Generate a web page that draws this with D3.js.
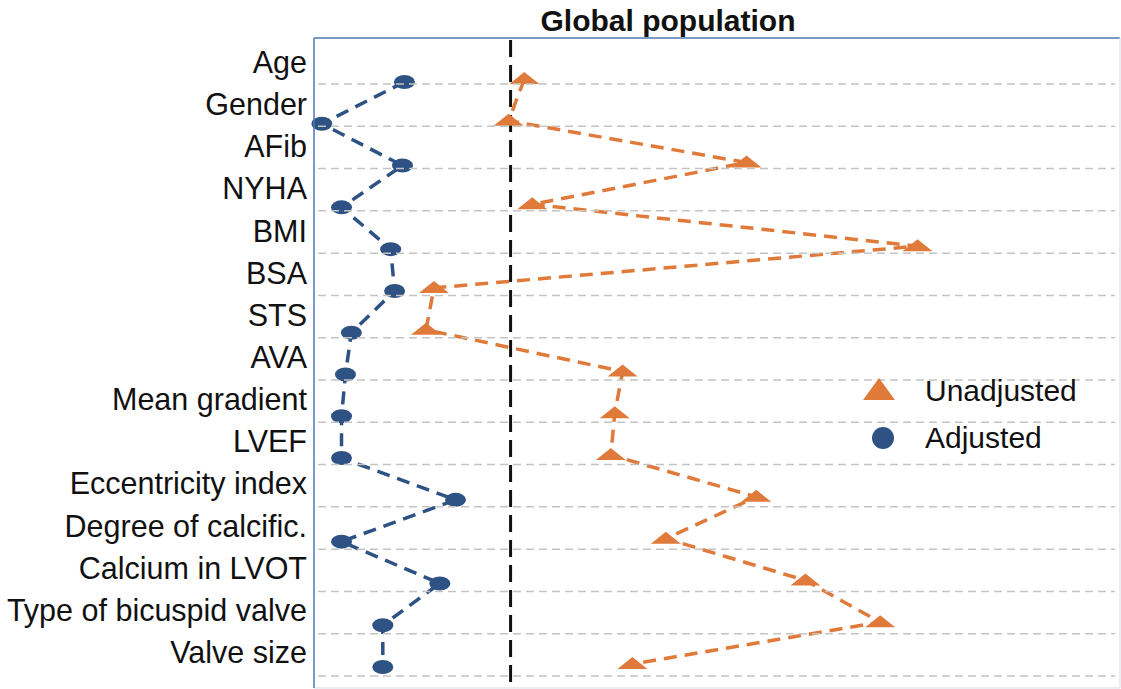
<!DOCTYPE html>
<html>
<head>
<meta charset="utf-8">
<script src="https://cdn.jsdelivr.net/npm/d3@7"></script>
<style>
  html, body { margin: 0; padding: 0; background: #ffffff; }
  svg { display: block; font-family: "Liberation Sans", Arial, Helvetica, sans-serif; }
</style>
</head>
<body>
<svg id="chart" width="1121" height="689"></svg>
<script>
// ---- data ----
const categories = ["Age", "Gender", "AFib", "NYHA", "BMI", "BSA", "STS", "AVA",
  "Mean gradient", "LVEF", "Eccentricity index", "Degree of calcific.",
  "Calcium in LVOT", "Type of bicuspid valve", "Valve size"];
const unadjusted = [0.107, 0.099, 0.220, 0.111, 0.307, 0.061, 0.057, 0.157,
  0.153, 0.151, 0.225, 0.179, 0.250, 0.288, 0.162];
const adjusted = [0.046, 0.004, 0.045, 0.014, 0.039, 0.041, 0.019, 0.016,
  0.014, 0.014, 0.072, 0.014, 0.064, 0.035, 0.035];
const threshold = 0.1;
const seriesNames = ["Unadjusted", "Adjusted"];
const title = "Global population";

// ---- layout ----
const W = 1121, H = 689;
const plot = { left: 314, top: 38, right: 1120, bottom: 688 };
const orange = "#df7a3a", blue = "#2d5283";

const svg = d3.select("#chart");

const x = d3.scaleLinear().domain([0, 0.41]).range([plot.left, plot.right]);
const y = d3.scalePoint().domain(categories).range([82, 667]);
const yGrid = d3.scalePoint().domain(categories).range([84, 676]);
const yLabel = d3.scalePoint().domain(categories).range([73, 663]);

// frame
svg.append("line").attr("x1", plot.left).attr("x2", plot.right).attr("y1", plot.top).attr("y2", plot.top)
  .attr("stroke", "#4f77b5").attr("stroke-width", 1.5);
svg.append("line").attr("x1", plot.right).attr("x2", plot.right).attr("y1", plot.top).attr("y2", plot.bottom)
  .attr("stroke", "#e3e8f0").attr("stroke-width", 1.5);
svg.append("line").attr("x1", plot.left).attr("x2", plot.right).attr("y1", plot.bottom).attr("y2", plot.bottom)
  .attr("stroke", "#e3e8f0").attr("stroke-width", 1.5);

// threshold line
svg.append("line")
  .attr("x1", x(threshold)).attr("x2", x(threshold))
  .attr("y1", plot.top + 2).attr("y2", plot.bottom)
  .attr("stroke", "#111").attr("stroke-width", 3)
  .attr("stroke-dasharray", "17,8");

// connecting lines
const unData = categories.map((c, i) => ({ c, v: unadjusted[i] }));
const adData = categories.map((c, i) => ({ c, v: adjusted[i] }));

svg.append("path").datum(unData)
  .attr("fill", "none").attr("stroke", orange).attr("stroke-width", 3.5)
  .attr("stroke-dasharray", "13,8")
  .attr("d", d3.line().x(d => x(d.v)).y(d => y(d.c) - 3));

svg.append("path").datum(adData)
  .attr("fill", "none").attr("stroke", blue).attr("stroke-width", 3.5)
  .attr("stroke-dasharray", "13,8")
  .attr("d", d3.line().x(d => x(d.v)).y(d => y(d.c)));

// markers
svg.append("g").selectAll("path").data(unData).join("path")
  .attr("fill", orange)
  .attr("d", d => {
    const cx = x(d.v), cy = y(d.c);
    return `M${cx - 15},${cy + 2}L${cx + 15},${cy + 2}L${cx},${cy - 10}Z`;
  });

svg.append("g").selectAll("ellipse").data(adData).join("ellipse")
  .attr("fill", blue)
  .attr("cx", d => x(d.v)).attr("cy", d => y(d.c))
  .attr("rx", 10.5).attr("ry", 7);

// grid lines (drawn over markers, as in the reference)
svg.append("g").selectAll("line").data(categories).join("line")
  .attr("x1", plot.left + 4).attr("x2", plot.right - 5)
  .attr("y1", d => yGrid(d)).attr("y2", d => yGrid(d))
  .attr("stroke", "#c4c4c4").attr("stroke-width", 1.5)
  .attr("stroke-dasharray", "8,5");

// left frame line on top
svg.append("line").attr("x1", plot.left).attr("x2", plot.left).attr("y1", plot.top).attr("y2", plot.bottom)
  .attr("stroke", "#4f77b5").attr("stroke-width", 1.5);

// category labels
svg.append("g").selectAll("text").data(categories).join("text")
  .attr("x", 307)
  .attr("y", d => yLabel(d))
  .attr("text-anchor", "end")
  .attr("font-size", "30.5px")
  .attr("fill", "#111")
  .text(d => d);

// title
svg.append("text")
  .attr("x", 668).attr("y", 31)
  .attr("text-anchor", "middle")
  .attr("font-size", "30px").attr("font-weight", "bold")
  .attr("fill", "#111")
  .text(title);

// legend
const lg = svg.append("g");
lg.append("path")
  .attr("fill", orange)
  .attr("d", "M863,400L895,400L879,378Z");
lg.append("circle").attr("cx", 883).attr("cy", 438).attr("r", 11).attr("fill", blue);
lg.selectAll("text").data(seriesNames).join("text")
  .attr("x", 925)
  .attr("y", (d, i) => 401 + i * 47)
  .attr("font-size", "30px")
  .attr("fill", "#111")
  .text(d => d);
</script>
</body>
</html>
